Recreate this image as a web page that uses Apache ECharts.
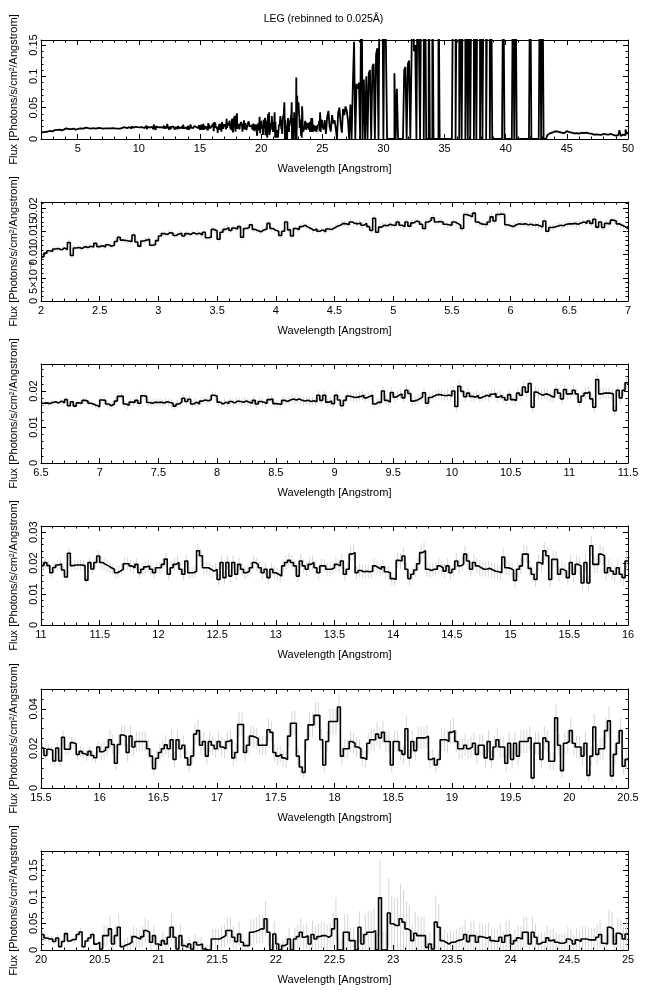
<!DOCTYPE html>
<html><head><meta charset="utf-8">
<script src="https://cdn.jsdelivr.net/npm/echarts@6/dist/echarts.min.js"></script>
<style>html,body{margin:0;padding:0;background:#fff}#c{width:647px;height:995px}</style>
</head><body><div id="c"></div>
<script>
// ---------------- DATA (flux in units of 1e-4 photons/s/cm^2/Angstrom, 0.025 A bins) ----------------
const FINE_START = 2.0;
const FINE_BIN = 0.025;
const flux_2_7 = [
95,103,108,107,112,113,110,114,111,126,98,114,115,113,117,115,118,116,124,117,
119,116,121,118,120,128,137,131,130,129,128,142,127,118,129,131,133,120,121,130,
140,145,143,147,146,141,144,146,140,145,143,147,144,146,142,148,136,137,154,151,
133,148,154,158,152,157,155,160,137,156,158,164,154,151,149,153,155,167,156,152,
150,141,150,170,153,140,156,154,160,163,159,156,152,155,150,153,149,155,154,157,
161,163,167,166,164,170,167,166,168,163,167,160,152,178,148,159,163,162,165,163,
163,170,163,160,170,161,168,172,170,165,156,170,174,179,170,171,170,165,164,163,
170,167,163,156,186,184,181,189,170,166,165,164,170,181,172,186,187,186,164,162,
160,164,166,165,166,164,165,163,164,162,159,172,150,158,159,161,163,162,165,166,
166,167,165,168,170,167,172,167,176,159,170,158,167,166,174,172,166,163,160,156];
const flux_7_11p5 = [
175,174,164,159,164,172,185,186,164,160,169,168,174,166,187,185,168,166,169,168,
169,167,170,168,166,158,164,169,180,171,177,164,169,164,172,175,173,176,188,186,
169,164,169,165,171,167,172,171,169,172,169,166,174,164,171,169,165,176,178,165,
164,163,174,171,175,178,175,178,174,172,174,171,173,170,188,174,188,169,172,165,
188,175,159,174,186,184,182,183,185,188,181,185,188,164,169,168,200,174,169,196,
183,188,192,181,202,193,172,174,178,183,195,166,182,186,190,190,188,187,189,186,
200,157,213,199,184,194,185,183,188,181,185,188,185,191,193,183,188,182,175,190,
176,174,194,188,211,197,221,155,197,192,188,192,190,185,183,204,194,178,204,192,
192,202,192,169,186,194,197,178,155,232,192,194,194,194,192,145,202,181,202,223];
const flux_11p5_16 = [
202,196,191,185,180,169,174,180,198,198,191,185,196,169,180,188,191,180,169,185,
185,196,213,164,185,196,202,180,164,207,169,169,174,240,224,185,185,180,174,180,
147,202,153,202,158,202,164,196,180,169,174,185,202,196,185,169,180,153,180,169,
164,158,191,202,209,202,191,158,207,191,180,196,202,185,169,191,191,180,180,185,
196,191,207,164,180,229,234,169,176,172,174,172,174,191,185,180,188,172,169,150,
147,209,207,223,180,150,164,178,198,234,240,180,176,180,180,191,185,174,191,169,
180,207,191,196,229,207,180,202,191,185,180,181,183,178,174,172,169,220,185,183,
178,144,180,191,229,229,183,164,147,202,196,240,224,147,212,212,164,180,174,153,
202,164,196,191,136,202,136,256,196,196,229,224,169,185,174,164,185,164,153,207];
const flux_16_20p5 = [
183,190,205,244,220,125,220,268,262,179,262,207,235,235,235,235,198,161,97,150,
179,198,218,198,244,144,244,198,216,152,116,161,272,290,216,235,161,235,216,198,
235,207,198,235,244,152,179,321,321,179,216,262,257,250,216,216,216,294,281,179,
161,170,152,144,262,327,327,161,106,79,244,319,319,367,367,244,116,235,336,336,
336,409,161,198,198,235,226,207,198,152,144,226,244,244,272,253,281,235,235,116,
235,235,189,170,299,152,235,189,253,253,253,262,144,152,116,144,244,244,235,281,
290,235,198,198,216,198,207,226,170,216,216,152,235,144,207,244,207,207,125,226,
144,226,161,235,235,235,253,51,226,226,144,253,235,135,135,354,216,88,226,235,
290,226,207,207,161,226,64,161,308,170,198,198,290,339,61,170,226,290,110,144];
const flux_20p5_25 = [
20,270,270,397,113,270,428,63,95,113,145,252,227,208,252,365,334,145,270,113,
85,176,113,240,428,240,20,270,82,50,113,20,145,95,113,20,0,0,208,208,
208,240,270,365,365,240,158,302,145,82,82,334,347,365,397,397,586,334,0,302,
113,0,82,113,208,0,208,252,334,240,270,113,290,208,252,270,270,240,270,397,
586,0,0,334,334,176,176,0,428,113,290,334,334,365,0,980,0,0,694,492,
460,460,586,523,397,365,176,315,270,270,270,50,113,20,523,428,176,145,113,145,
145,176,190,208,290,158,270,270,145,252,240,220,252,176,164,164,240,145,270,290,
113,176,227,208,334,334,113,334,240,113,145,145,227,176,190,145,126,126,145,208,
176,113,190,158,208,208,190,190,190,240,290,126,113,428,397,113,315,290,208,302];

// 1-sigma errors, same bins and units
const err_2_7 = [
5,5,5,5,5,5,5,5,5,6,5,5,5,5,5,5,5,5,6,5,
5,5,6,5,5,6,6,6,6,6,6,6,6,5,6,6,6,5,5,6,
6,6,6,6,6,6,6,6,6,6,6,6,6,6,6,6,6,6,6,6,
6,6,6,6,6,6,6,6,6,6,6,6,6,6,6,6,6,6,6,6,
6,6,6,7,6,6,6,6,6,6,6,6,6,6,6,6,6,6,6,6,
7,7,7,7,7,7,7,7,7,7,7,7,7,7,7,7,7,7,7,7,
7,7,7,7,7,7,7,7,7,7,7,7,7,7,7,7,7,7,7,7,
7,7,7,7,8,8,8,8,7,7,7,7,7,8,7,8,8,8,7,7,
7,7,7,7,7,7,7,7,7,7,7,7,7,7,7,7,7,7,7,7,
7,7,7,7,7,7,7,7,8,7,7,7,7,7,7,7,7,7,7,7];
const err_7_11p5 = [
11,11,10,10,10,11,11,11,10,10,11,11,11,10,11,11,11,10,11,11,
11,11,11,11,11,10,10,11,11,11,11,10,11,10,11,11,11,11,11,11,
11,11,11,11,11,11,11,11,11,11,11,11,11,11,11,11,11,11,11,11,
11,11,12,12,12,12,12,12,12,12,12,12,12,12,12,12,12,12,12,12,
13,13,12,13,13,13,13,13,13,13,13,13,13,12,12,12,14,13,12,14,
13,13,14,13,14,13,13,13,13,13,14,13,13,13,14,14,14,14,14,14,
14,13,15,14,14,14,14,14,14,14,14,14,14,14,14,14,14,14,14,14,
14,14,15,15,15,15,16,13,15,15,15,15,15,15,15,16,15,15,16,15,
15,16,15,14,15,16,16,15,14,17,16,16,16,16,16,14,16,15,16,17];
const err_11p5_16 = [
20,20,20,19,19,19,19,19,20,20,20,19,20,19,19,20,20,19,19,20,
20,20,21,19,20,21,21,20,19,21,19,19,20,23,22,20,20,20,20,20,
19,22,20,22,20,22,20,22,21,21,21,21,22,22,21,21,21,20,21,21,
21,21,22,23,23,23,22,21,23,22,22,23,23,22,21,22,22,22,22,22,
23,23,24,21,22,25,25,22,22,22,22,22,22,23,23,22,23,22,22,21,
21,25,25,26,23,21,22,23,24,27,27,23,23,23,23,24,24,23,24,23,
24,26,25,25,27,26,24,26,25,25,24,24,25,24,24,24,24,27,25,25,
25,23,25,26,28,28,26,25,24,27,27,29,29,24,28,28,25,26,26,24,
28,26,28,28,24,29,24,33,28,28,30,30,27,28,27,27,28,27,26,30];
const err_16_20p5 = [
45,46,47,52,49,37,49,54,53,44,53,47,50,50,50,50,46,42,33,41,
44,46,49,46,52,39,52,46,48,41,36,42,55,57,49,51,43,51,49,47,
51,48,47,51,52,41,45,60,60,45,49,54,53,53,49,49,49,57,56,45,
43,44,42,41,55,62,62,44,35,31,54,62,62,66,66,54,38,53,64,64,
64,71,44,49,49,53,52,50,49,43,42,52,55,55,58,56,59,54,54,38,
54,54,49,47,61,44,55,49,57,57,57,58,44,44,39,44,57,57,56,61,
63,57,52,52,54,52,53,56,48,55,55,46,57,45,54,59,54,54,42,57,
46,57,48,58,58,58,60,26,57,57,46,60,58,45,45,71,56,36,57,58,
65,58,56,56,50,59,31,50,69,52,56,56,66,72,31,52,59,66,42,48];
const err_20p5_25 = [
60,200,200,240,130,200,250,80,120,130,150,190,185,175,190,230,220,150,200,130,
115,165,135,195,260,195,80,210,115,90,135,80,155,125,135,80,100,100,185,185,
185,200,215,250,250,200,165,230,160,120,120,240,245,250,265,265,330,250,120,240,
150,120,130,150,210,120,210,230,270,230,245,160,260,220,245,250,250,240,250,320,
400,200,200,340,340,250,250,200,300,220,380,400,400,420,300,700,350,350,650,520,
520,520,650,600,520,480,300,400,360,360,360,150,220,120,500,440,260,240,210,230,
200,220,225,235,280,210,270,270,200,260,255,245,260,220,210,210,255,200,270,280,
170,210,240,230,290,290,170,290,250,170,190,190,240,210,220,190,180,180,190,230,
210,170,220,200,230,230,220,220,220,245,270,180,170,330,320,170,280,270,230,280];

// overview beyond 25 A, read at 0.1 A resolution (3000 = off the top of the axis)
const COARSE_START = 25.0;
const COARSE_BIN = 0.1;
const flux_25_50 = [
220,150,300,80,350,450,200,120,380,250,
300,180,0,420,500,250,100,480,380,520,
450,300,0,550,0,850,1550,0,880,800,
900,0,3000,0,950,0,1000,0,1050,1100,
0,1150,1200,0,1350,1450,0,3000,3000,3000,
0,3000,1600,0,0,0,0,0,0,1050,
0,800,0,0,0,0,0,1100,1150,0,
1200,1250,0,1300,3000,1400,1500,0,3000,1550,
0,3000,3000,0,3000,0,0,3000,0,0,
3000,0,0,0,0,3000,0,0,0,0,
0,0,0,0,0,0,0,3000,3000,0,
3000,3000,0,3000,0,3000,3000,0,3000,0,
3000,0,3000,3000,0,3000,0,3000,3000,0,
3000,0,3000,3000,0,3000,3000,0,3000,0,
0,0,0,0,0,0,0,0,3000,0,
0,0,0,0,0,0,3000,0,3000,0,
0,0,0,0,0,0,0,0,0,0,
3000,0,0,0,0,0,0,0,3000,0,
3000,0,0,0,60,90,110,100,80,120,
100,120,90,110,130,100,120,95,110,125,
130,110,120,100,115,90,105,95,110,85,
90,100,80,95,85,100,75,90,80,85,
80,70,90,75,85,70,80,65,75,80,
60,75,55,70,60,80,50,65,70,55,
80,60,90,140,50,70,100,60,150,90];

// panel ranges and tick steps
const panelXMin = [2, 2, 6.5, 11, 15.5, 20];
const panelXMax = [50, 7, 11.5, 16, 20.5, 25];
const panelYMax = [0.158, 0.0213, 0.0275, 0.032, 0.05, 0.186];
const xMajorStep = [5, 0.5, 0.5, 0.5, 0.5, 0.5];
const xMinorStep = [1, 0.1, 0.1, 0.1, 0.1, 0.1];
const yMajorStep = [0.05, 0.005, 0.01, 0.01, 0.02, 0.05];
const yMinorStep = [0.01, 0.001, 0.002, 0.002, 0.005, 0.01];

const TITLE = 'LEG (rebinned to 0.025Å)';
const X_NAME = 'Wavelength [Angstrom]';
const Y_NAME = 'Flux [Photons/s/cm²/Angstrom]';

// ---------------- BUILD ----------------
const fineFlux = [].concat(flux_2_7, flux_7_11p5, flux_11p5_16, flux_16_20p5, flux_20p5_25).map(v => v * 1e-4);
const fineErr = [].concat(err_2_7, err_7_11p5, err_11p5_16, err_16_20p5, err_20p5_25).map(v => v * 1e-4);
if (fineFlux.length !== 920 || fineErr.length !== 920 || flux_25_50.length !== 250) {
  throw new Error('length mismatch ' + fineFlux.length + ' ' + fineErr.length + ' ' + flux_25_50.length);
}
const fineLo = fineFlux.map((_, i) => +(FINE_START + i * FINE_BIN).toFixed(4));
const coarseLo = flux_25_50.map((_, i) => +(COARSE_START + i * COARSE_BIN).toFixed(4));

function stepWindow(a, b) {
  const pts = []; let last = 0;
  for (let i = 0; i < fineFlux.length; i++) {
    const lo = fineLo[i];
    if (lo >= a - 1e-9 && lo + FINE_BIN <= b + 1e-9) { pts.push([lo, fineFlux[i]]); last = fineFlux[i]; }
  }
  pts.push([b, last]);
  return pts;
}
function errWindow(a, b) {
  const out = [];
  for (let i = 0; i < fineFlux.length; i++) {
    const lo = fineLo[i];
    if (lo >= a - 1e-9 && lo + FINE_BIN <= b + 1e-9) {
      out.push([lo + FINE_BIN / 2, fineFlux[i] - fineErr[i], fineFlux[i] + fineErr[i]]);
    }
  }
  return out;
}
function overview() {
  const pts = [];
  for (let i = 0; i < fineFlux.length; i++) pts.push([fineLo[i], fineFlux[i]]);
  let last = 0;
  for (let i = 0; i < flux_25_50.length; i++) { last = flux_25_50[i] * 1e-4; pts.push([coarseLo[i], last]); }
  pts.push([50, last]);
  return pts;
}
function ticks(a, b, step) {
  const out = []; const s = Math.ceil(a / step - 1e-9); const e = Math.floor(b / step + 1e-9);
  for (let k = s; k <= e; k++) out.push(+(k * step).toFixed(6));
  return out;
}
function yFmt(v) {
  if (Math.abs(v) < 1e-12) return '0';
  if (v < 0.01 - 1e-12) return (+(v * 1000).toFixed(3)) + '×10⁻³';
  return String(+v.toFixed(4));
}
function xFmt(v) { return String(+(+v).toFixed(3)); }

const FONT = 'Liberation Sans, Arial, sans-serif';
const GRID_L = 41, GRID_W = 587, GRID_H = 99;
const gridTop = [40, 202, 364, 526, 689, 851];

const grids = [], xAxes = [], yAxes = [], series = [];
const black = { color: '#000', width: 1 };
const labelStyle = { fontSize: 11, color: '#000', fontFamily: FONT, hideOverlap: false };

for (let p = 0; p < 6; p++) {
  grids.push({ left: GRID_L, top: gridTop[p], width: GRID_W, height: GRID_H, containLabel: false, outerBoundsMode: 'none' });
  const xMaj = ticks(panelXMin[p], panelXMax[p], xMajorStep[p]);
  const xMin = ticks(panelXMin[p], panelXMax[p], xMinorStep[p]);
  const yMaj = ticks(0, panelYMax[p], yMajorStep[p]);
  const yMin = ticks(0, panelYMax[p], yMinorStep[p]);
  const xb = { type: 'value', gridIndex: p, min: panelXMin[p], max: panelXMax[p], splitLine: { show: false }, axisPointer: { show: false } };
  const yb = { type: 'value', gridIndex: p, min: 0, max: panelYMax[p], splitLine: { show: false }, axisPointer: { show: false } };
  const xIdx = xAxes.length, yIdx = yAxes.length;
  xAxes.push(Object.assign({}, xb, {
    position: 'bottom',
    axisLine: { show: true, onZero: false, lineStyle: black },
    axisTick: { show: true, inside: true, length: 5, customValues: xMaj, lineStyle: black },
    axisLabel: Object.assign({ show: true, customValues: xMaj, formatter: xFmt, margin: 4, showMinLabel: true, showMaxLabel: true }, labelStyle),
    name: X_NAME, nameLocation: 'middle', nameGap: 24,
    nameTextStyle: { fontSize: 11, color: '#000', fontFamily: FONT }
  }));
  xAxes.push(Object.assign({}, xb, {
    position: 'bottom', axisLine: { show: false, onZero: false },
    axisTick: { show: true, inside: true, length: 2.5, customValues: xMin, lineStyle: black },
    axisLabel: { show: false }
  }));
  xAxes.push(Object.assign({}, xb, {
    position: 'top', axisLine: { show: true, onZero: false, lineStyle: black },
    axisTick: { show: true, inside: true, length: 5, customValues: xMaj, lineStyle: black },
    axisLabel: { show: false }
  }));
  xAxes.push(Object.assign({}, xb, {
    position: 'top', axisLine: { show: false, onZero: false },
    axisTick: { show: true, inside: true, length: 2.5, customValues: xMin, lineStyle: black },
    axisLabel: { show: false }
  }));
  // left: line + major ticks + name
  yAxes.push(Object.assign({}, yb, {
    position: 'left',
    axisLine: { show: true, onZero: false, lineStyle: black },
    axisTick: { show: true, inside: true, length: 5, customValues: yMaj, lineStyle: black },
    axisLabel: { show: false },
    name: Y_NAME, nameLocation: 'middle', nameGap: 22,
    nameTextStyle: { fontSize: 11, color: '#000', fontFamily: FONT }
  }));
  yAxes.push(Object.assign({}, yb, {
    position: 'left', axisLine: { show: false, onZero: false },
    axisTick: { show: true, inside: true, length: 2.5, customValues: yMin, lineStyle: black },
    axisLabel: { show: false }
  }));
  // left labels split in two interleaved sets so that overlapping labels are all kept
  [0, 1].forEach(function (par) {
    const vals = yMaj.filter((_, k) => k % 2 === par);
    yAxes.push(Object.assign({}, yb, {
      position: 'left', axisLine: { show: false, onZero: false }, axisTick: { show: false },
      axisLabel: Object.assign({ show: true, customValues: vals, formatter: yFmt, rotate: 90, margin: 2, showMinLabel: true, showMaxLabel: true }, labelStyle)
    }));
  });
  yAxes.push(Object.assign({}, yb, {
    position: 'right', axisLine: { show: true, onZero: false, lineStyle: black },
    axisTick: { show: true, inside: true, length: 5, customValues: yMaj, lineStyle: black },
    axisLabel: { show: false }
  }));
  yAxes.push(Object.assign({}, yb, {
    position: 'right', axisLine: { show: false, onZero: false },
    axisTick: { show: true, inside: true, length: 2.5, customValues: yMin, lineStyle: black },
    axisLabel: { show: false }
  }));

  if (p > 0) {
    series.push({
      type: 'custom', xAxisIndex: xIdx, yAxisIndex: yIdx, clip: true, z: 1, silent: true,
      data: errWindow(panelXMin[p], panelXMax[p]),
      encode: { x: 0, y: [1, 2] },
      renderItem: function (params, api) {
        const a = api.coord([api.value(0), api.value(1)]);
        const b = api.coord([api.value(0), api.value(2)]);
        return { type: 'line', shape: { x1: a[0], y1: a[1], x2: b[0], y2: b[1] }, style: { stroke: '#d6d6d6', lineWidth: 1 } };
      }
    });
  }
  series.push({
    type: 'line', xAxisIndex: xIdx, yAxisIndex: yIdx, step: 'end', showSymbol: false, symbol: 'none',
    clip: true, z: 2, silent: true,
    data: p === 0 ? overview() : stepWindow(panelXMin[p], panelXMax[p]),
    lineStyle: { color: '#000', width: p === 0 ? 1.8 : 1.6 }
  });
}

const chart = echarts.init(document.getElementById('c'), null, { renderer: 'canvas', width: 647, height: 995 });
chart.setOption({
  animation: false,
  backgroundColor: '#fff',
  title: { text: TITLE, left: 'center', top: 9, textStyle: { fontSize: 10.5, fontWeight: 'normal', color: '#000', fontFamily: FONT } },
  grid: grids, xAxis: xAxes, yAxis: yAxes, series: series
});
</script></body></html>
